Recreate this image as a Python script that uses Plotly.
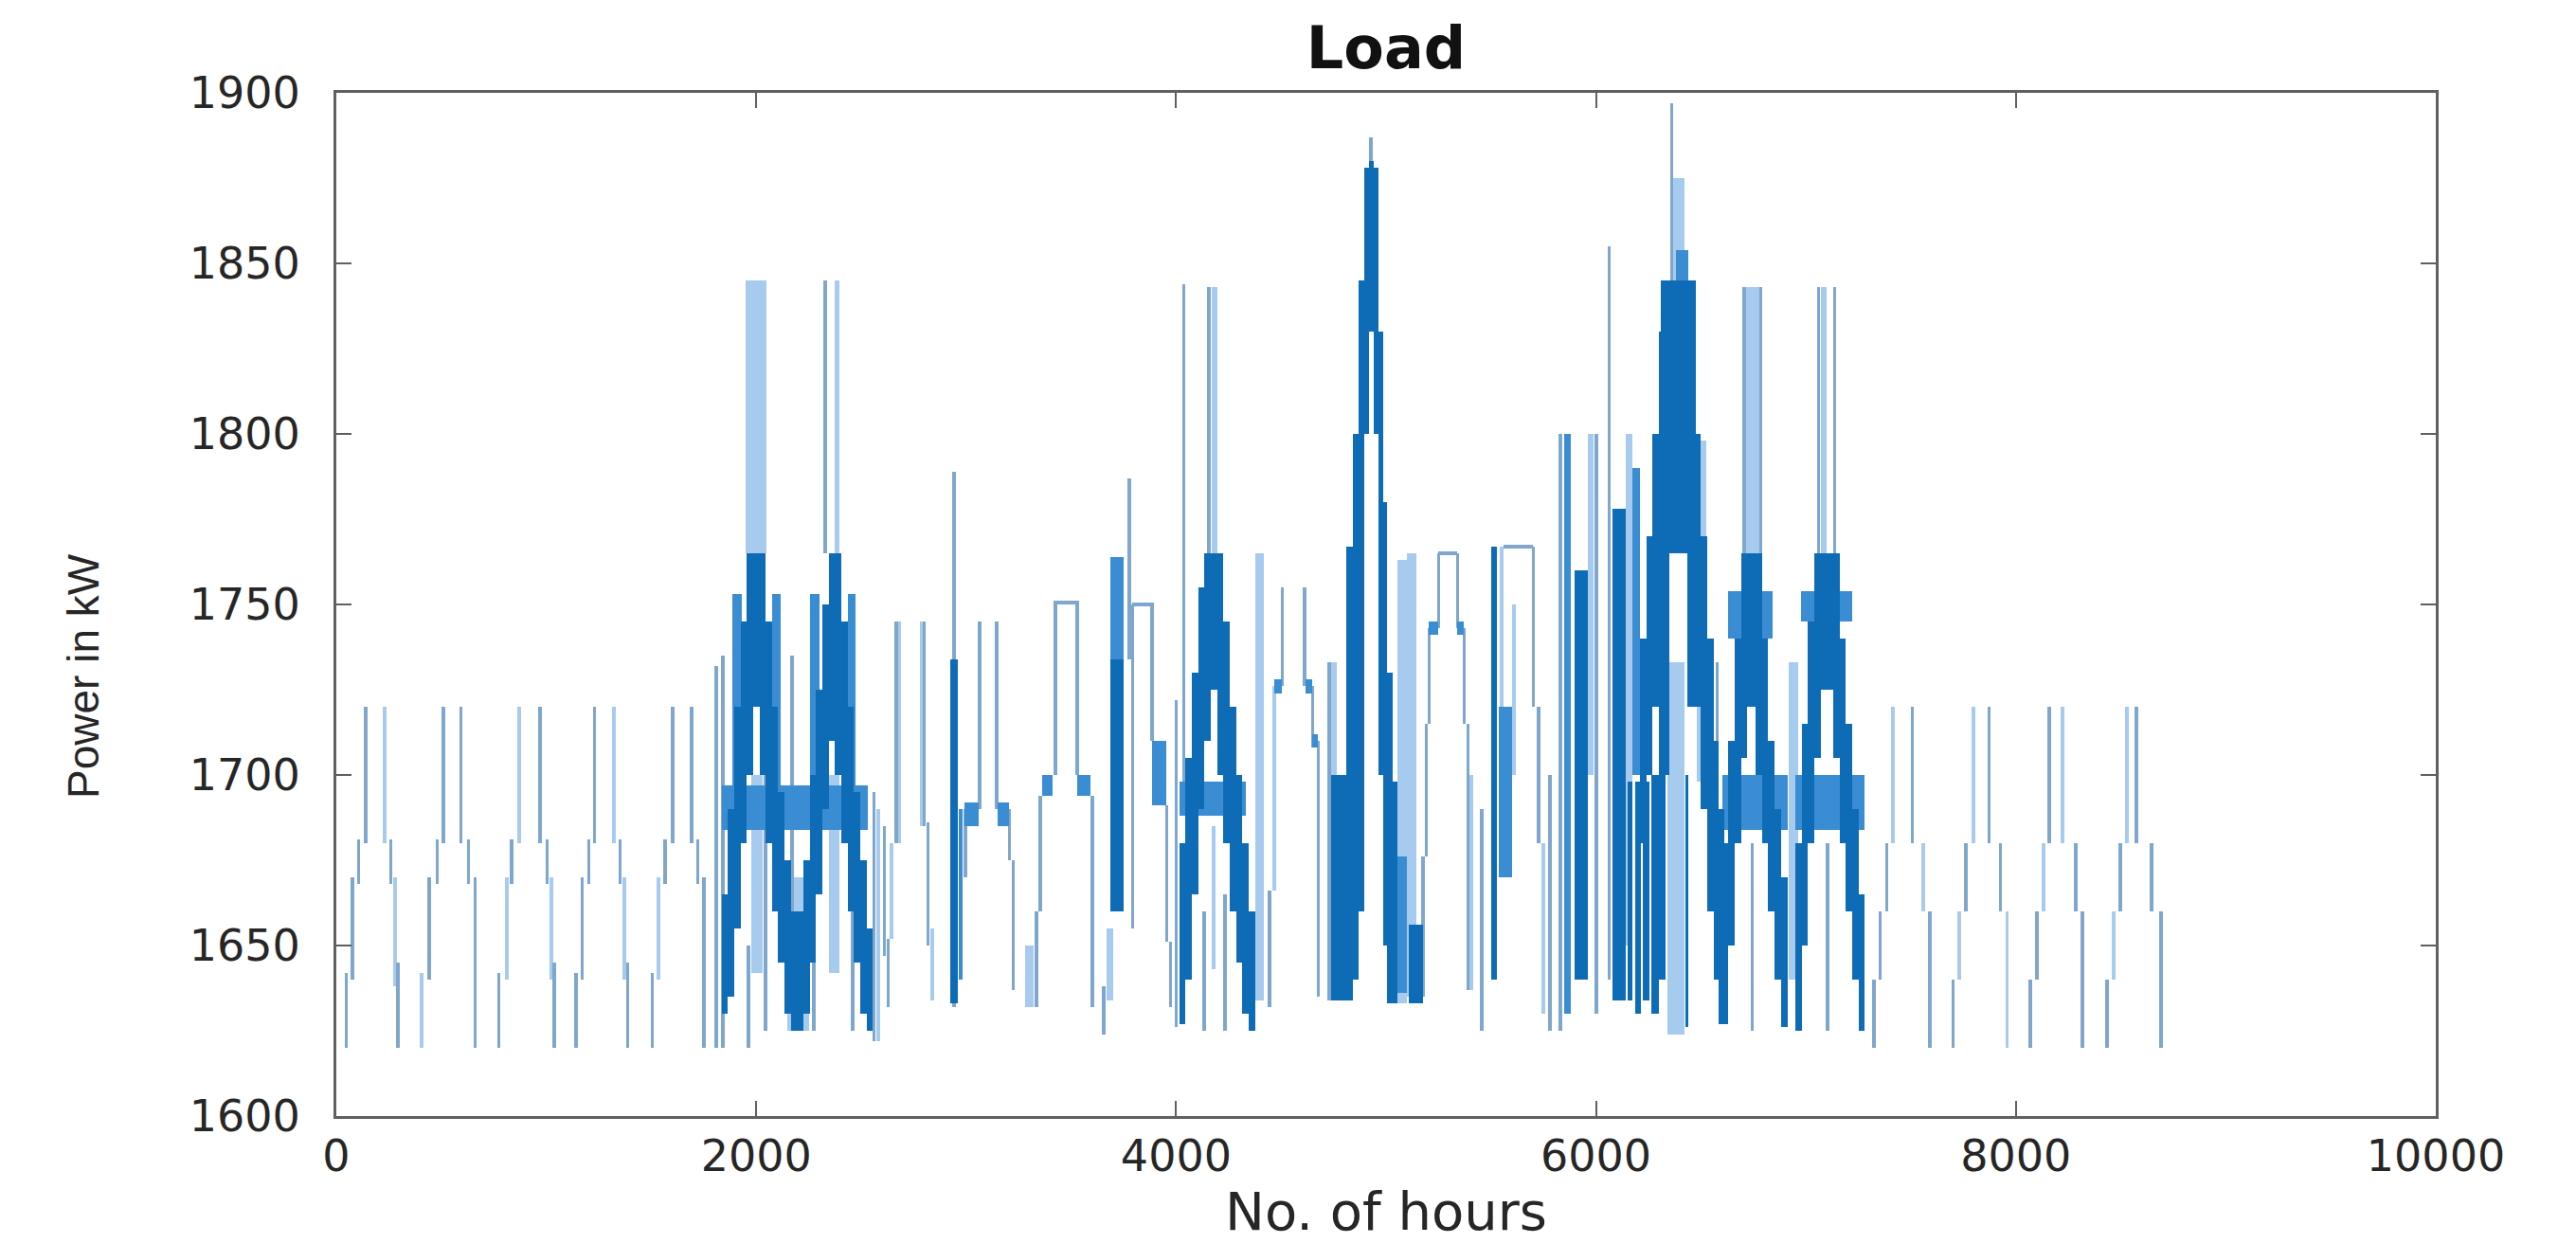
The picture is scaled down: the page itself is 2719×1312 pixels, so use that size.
import plotly.graph_objects as go

# ---- data: vertical strokes (hour_start, hour_end, kW_low, kW_high) ----
# thin grey-blue strokes
thin_strokes = [
    (41,53,1620,1642),(70,82,1640,1670),(100,112,1668,1681),(134,146,1680,1720),(254,266,1668,1681),(288,300,1620,1645),
    (436,448,1640,1670),(474,486,1668,1681),(504,516,1680,1720),(587,599,1680,1720),(624,636,1668,1681),(655,667,1620,1670),
    (768,780,1620,1642),(828,840,1668,1681),(963,975,1680,1720),(998,1010,1668,1681),(1031,1043,1620,1645),
    (1136,1148,1620,1642),(1166,1178,1640,1670),(1196,1208,1668,1681),(1224,1236,1680,1720),(1345,1357,1668,1681),(1381,1393,1620,1645),
    (1498,1510,1620,1642),(1560,1572,1668,1681),(1596,1608,1680,1720),(1686,1698,1680,1720),(1716,1728,1668,1681),(1744,1756,1620,1670),
    (1805,1815,1620,1732),(1836,1846,1620,1735),(2166,2176,1630,1735),(2323,2333,1765,1845),(2555,2567,1622,1695),
    (1960,1968,1620,1650),(2040,2048,1625,1700),(2270,2278,1625,1690),(2455,2463,1625,1660),
    (2604,2616,1647,1685),(2622,2634,1632,1652),(2660,2672,1680,1745),(2796,2806,1685,1745),(2812,2824,1650,1686),(2937,2949,1632,1789),
    (2990,3002,1670,1690),(3058,3070,1690,1745),(3140,3152,1690,1745),(3200,3212,1675,1690),(3218,3230,1637,1675),
    (3330,3342,1632,1660),(3348,3360,1660,1694),(3420,3432,1700,1751),(3427,3527,1750,1751),(3522,3534,1700,1751),(3596,3608,1632,1694),
    (3650,3660,1624,1638),(3772,3782,1734,1787),(3786,3798,1655,1750),(3789,3894,1749.5,1750.5),(3880,3892,1710,1750),(3950,3962,1651,1691),(3968,3980,1632,1651),
    (3995,4005,1626,1722),(4030,4042,1698,1844),(4150,4160,1765,1843),(4130,4138,1625,1660),(4230,4238,1625,1665),
    (4440,4452,1632,1666),(4500,4512,1726,1755),(4606,4618,1726,1755),(4645,4657,1708,1726),(4672,4684,1635,1710),
    (4725,4735,1634,1733),(4925,4933,1878,1887),
    (5170,5182,1635,1676),(5185,5197,1676,1715),(5200,5212,1715,1743),(5244,5256,1743,1765),(5248,5339,1764.5,1765.5),(5334,5346,1743,1765),(5366,5378,1715,1743),(5384,5396,1637,1715),
    (5450,5462,1625,1690),(5560,5700,1766.5,1767.5),(5695,5707,1720,1767),(5720,5732,1680,1720),
    (5775,5787,1625,1700),(5825,5837,1625,1800),(5995,6007,1630,1800),(6058,6068,1640,1855),
    (6356,6364,1845,1897),(6572,6584,1640,1733),(6700,6710,1765,1843),(6780,6790,1765,1843),(7056,7066,1765,1843),(7131,7141,1765,1843),
    (6740,6748,1625,1680),(7100,7108,1625,1680),
    (7318,7330,1620,1640),(7348,7360,1640,1660),(7378,7390,1660,1680),(7500,7512,1680,1720),(7584,7596,1620,1660),
    (7694,7706,1620,1640),(7756,7768,1660,1680),(7866,7878,1680,1720),(7920,7932,1660,1680),
    (8063,8075,1620,1640),(8093,8105,1640,1660),(8153,8165,1680,1720),(8278,8290,1660,1680),(8311,8323,1620,1660),
    (8428,8440,1620,1640),(8492,8504,1660,1680),(8568,8580,1680,1720),(8640,8652,1660,1680),(8686,8698,1620,1660),
]
# light blue strokes
light_strokes = [
    (224,240,1680,1720),(270,288,1638,1670),(398,414,1620,1642),(803,819,1640,1670),(862,880,1680,1720),(1015,1031,1640,1670),
    (1312,1328,1680,1720),(1362,1378,1640,1670),(1528,1544,1640,1670),
    (1950,2048,1765,1845),(2372,2398,1765,1845),(1975,2030,1642,1700),(2150,2250,1625,1670),(2345,2395,1642,1700),(2570,2590,1622,1690),
    (2636,2650,1652,1680),(2674,2688,1680,1745),(2780,2794,1685,1745),(2828,2846,1634,1655),(3280,3320,1632,1650),
    (3670,3700,1634,1655),(4170,4195,1765,1843),(4175,4185,1643,1685),(4376,4420,1634,1765),(4460,4472,1666,1726),
    (4740,4765,1640,1733),(5053,5100,1633,1763),(5100,5143,1635,1765),(5398,5414,1637,1700),
    (5545,5560,1720,1767),(5600,5615,1700,1750),(5740,5755,1630,1680),(5960,5990,1700,1800),(6140,6175,1650,1800),
    (6340,6420,1624,1733),(6354,6422,1845,1875),(6482,6527,1698,1798),(6700,6790,1765,1843),(6918,6963,1640,1733),(7070,7100,1765,1843),
    (7408,7424,1680,1720),(7550,7564,1660,1680),(7722,7738,1640,1660),(7790,7806,1680,1720),(7950,7966,1620,1660),
    (8123,8139,1660,1680),(8214,8230,1680,1720),(8458,8474,1640,1660),(8520,8536,1680,1720),
]
# medium blue strokes
medium_strokes = [
    (1886,1930,1697,1753),(2075,2115,1697,1753),(2255,2300,1697,1753),(2435,2475,1697,1753),
    (2965,2985,1640,1690),(2990,3060,1685,1692),(3150,3205,1685,1692),(3360,3410,1694,1700),(3527,3590,1694,1700),
    (3689,3750,1734,1764),(3885,3955,1691,1710),
    (4466,4503,1724,1728),(4616,4650,1724,1728),(4650,4676,1708,1712),(5053,5100,1636,1676),
    (5205,5248,1741,1745),(5339,5369,1741,1745),(5535,5600,1670,1720),(5850,5880,1630,1800),(6175,6210,1700,1790),
    (6380,6440,1845,1854),(6630,6840,1740,1754),(6978,7219,1745,1754),
    (1835,2530,1684,1697),(4015,4330,1688,1698),(6600,6915,1684,1700),(6950,7280,1684,1700),
]
# dark blue strokes (dense parts)
dark_strokes = [
    (1835,1865,1630,1665),(1865,1895,1635,1690),(1895,1925,1655,1720),(1925,1955,1680,1745),(1955,1985,1700,1765),(1985,2015,1720,1765),
    (2015,2045,1700,1765),(2045,2075,1680,1745),(2075,2105,1660,1720),(2105,2135,1645,1695),(2135,2165,1630,1675),(2165,2195,1625,1660),
    (2195,2225,1625,1660),(2225,2255,1630,1675),(2255,2285,1645,1700),(2285,2315,1665,1725),(2315,2345,1690,1750),(2345,2375,1710,1765),
    (2375,2405,1700,1765),(2405,2435,1680,1745),(2435,2465,1660,1720),(2465,2495,1645,1695),(2495,2525,1630,1675),(2525,2555,1625,1655),
    (2925,2960,1633,1734),(3689,3750,1660,1734),
    (4015,4045,1627,1680),(4045,4075,1640,1705),(4075,4105,1665,1730),(4105,4135,1690,1755),(4135,4165,1710,1765),(4165,4195,1725,1765),
    (4195,4225,1700,1765),(4225,4255,1680,1745),(4255,4285,1660,1720),(4285,4315,1645,1700),(4315,4345,1630,1680),(4345,4375,1625,1660),
    (4737,4842,1634,1700),(4812,4842,1700,1767),(4842,4870,1640,1800),(4870,4895,1660,1845),(4895,4920,1800,1878),(4920,4940,1830,1880),
    (4940,4963,1800,1878),(4963,4985,1700,1830),(4985,5005,1650,1780),(5005,5030,1633,1730),(5030,5055,1633,1698),(5110,5175,1633,1656),
    (5500,5530,1640,1767),(5900,5960,1640,1760),(6080,6140,1634,1778),
    (6150,6175,1634,1698),(6185,6215,1630,1698),(6225,6255,1634,1698),(6265,6300,1630,1700),
    (6210,6240,1680,1740),(6240,6270,1700,1770),(6270,6300,1720,1800),(6300,6330,1640,1830),(6330,6350,1700,1845),(6310,6475,1765,1845),
    (6425,6440,1626,1700),(6437,6474,1720,1770),(6474,6500,1720,1800),(6500,6530,1690,1770),(6530,6560,1660,1740),(6560,6585,1640,1710),(6585,6610,1627,1690),
    (6600,6630,1627,1680),(6630,6660,1650,1710),(6660,6690,1680,1740),(6690,6720,1705,1765),(6720,6760,1720,1765),
    (6760,6790,1700,1765),(6790,6820,1680,1740),(6820,6850,1660,1710),(6850,6880,1640,1690),(6880,6915,1626,1670),
    (6950,6980,1625,1680),(6980,7010,1650,1715),(7010,7040,1680,1745),(7040,7070,1705,1765),(7070,7130,1725,1765),
    (7130,7160,1705,1765),(7160,7190,1680,1740),(7190,7220,1660,1715),(7220,7250,1640,1690),(7250,7280,1625,1665),
]

x_tick_values = [0, 2000, 4000, 6000, 8000, 10000]
x_tick_labels = ["0", "2000", "4000", "6000", "8000", "10000"]
y_tick_values = [1600, 1650, 1700, 1750, 1800, 1850, 1900]
y_tick_labels = ["1600", "1650", "1700", "1750", "1800", "1850", "1900"]

shade_colors = {"light": "#a6cbee", "thin": "#7fa7cd", "medium": "#3a8dd2", "dark": "#0e6cb6"}

fig = go.Figure()

def add_strokes(strokes, color, min_width=0):
    fig.add_trace(go.Bar(
        x=[(a + b) / 2 for a, b, lo, hi in strokes],
        width=[max(b - a, min_width) if (hi - lo) > 2 else (b - a) for a, b, lo, hi in strokes],
        base=[lo for a, b, lo, hi in strokes],
        y=[hi - lo for a, b, lo, hi in strokes],
        marker=dict(color=color, line=dict(width=0)),
        showlegend=False, hoverinfo="skip",
    ))

add_strokes(light_strokes, shade_colors["light"], min_width=18)
add_strokes(thin_strokes, shade_colors["thin"], min_width=16)
add_strokes(medium_strokes, shade_colors["medium"])
add_strokes(dark_strokes, shade_colors["dark"])

axis_font = dict(family="DejaVu Sans", size=46, color="#262626")
common = dict(
    showgrid=False, zeroline=False, showline=True, linecolor="#606060", linewidth=3,
    mirror="ticks", ticks="inside", ticklen=16, tickwidth=2, tickcolor="#606060",
    tickfont=axis_font,
)
fig.update_xaxes(range=[0, 10000], tickvals=x_tick_values, ticktext=x_tick_labels, ticklabelstandoff=0, **common)
fig.update_yaxes(range=[1600, 1900], tickvals=y_tick_values, ticktext=y_tick_labels, ticklabelstandoff=26, **common)

fig.update_layout(
    width=2719, height=1312,
    margin=dict(l=347, r=156, t=90, b=142),
    paper_bgcolor="white", plot_bgcolor="white",
    barmode="overlay", bargap=0,
    title=dict(text="<b>Load</b>", x=0.5, xref="paper", y=1 - 42 / 1312, yanchor="middle",
               font=dict(family="DejaVu Sans", size=62, color="#111111")),
    annotations=[
        dict(text="No. of hours", xref="paper", yref="paper", x=0.5, y=(1170 - 1270) / 1080,
             xanchor="center", yanchor="middle", showarrow=False,
             font=dict(family="DejaVu Sans", size=56, color="#262626")),
        dict(text="Power in kW", xref="paper", yref="paper", x=(80 - 347) / 2216, y=(1170 - 706) / 1080,
             xanchor="center", yanchor="middle", textangle=-90, showarrow=False,
             font=dict(family="Liberation Sans Narrow, Liberation Sans, DejaVu Sans", size=46, color="#262626")),
    ],
)

fig.write_html("out.html")
